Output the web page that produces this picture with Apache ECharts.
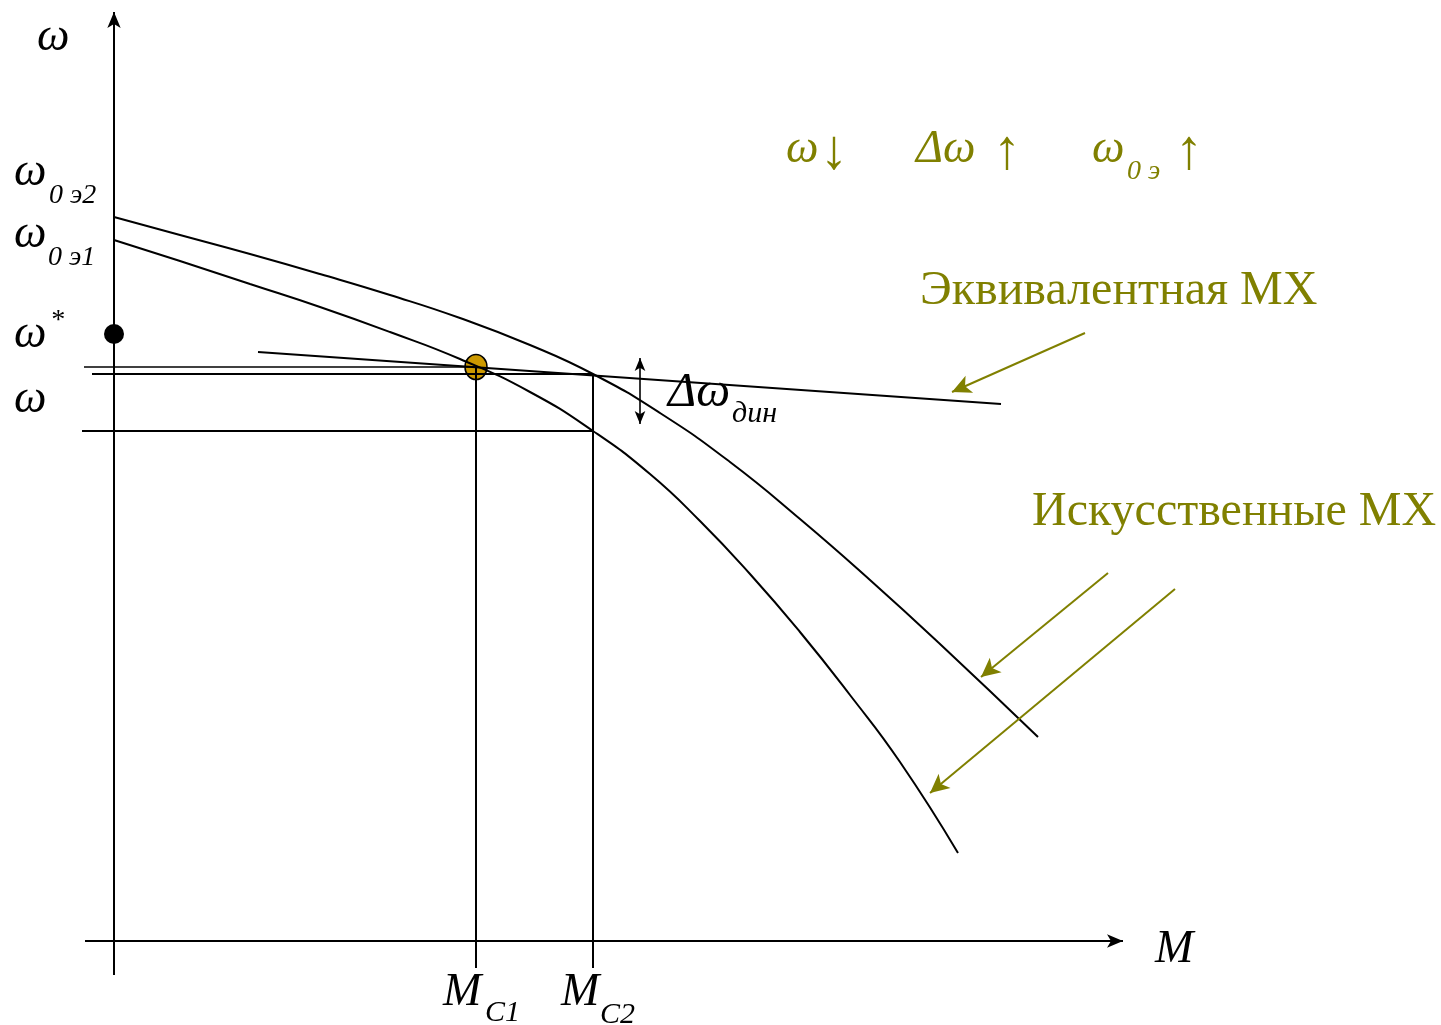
<!DOCTYPE html>
<html>
<head>
<meta charset="utf-8">
<script src="https://cdn.jsdelivr.net/npm/echarts/dist/echarts.min.js"></script>
<style>
  html, body { margin: 0; padding: 0; background: #ffffff; }
  #chart { width: 1441px; height: 1025px; }
</style>
</head>
<body>
<div id="chart"></div>
<script>
// Mechanical characteristics ω(M): two artificial curves, the equivalent one and the load points.

// Artificial characteristic starting at ω0э2 (upper curve), [M, ω]
const curveE2 = [
  [0, 72.4], [6.6, 70.6], [13.6, 68.7], [20.6, 66.7], [27.6, 64.6], [34.6, 62.3], [41.6, 59.6],
  [47.9, 56.7], [54.6, 52.8], [61.6, 47.9], [68.6, 42.2], [75.6, 36.1], [82.6, 29.7], [92.4, 20.4]
];
// Artificial characteristic starting at ω0э1 (lower curve), [M, ω]
const curveE1 = [
  [0, 70.1], [6.6, 68.0], [13.6, 65.7], [20.6, 63.4], [27.6, 60.9], [34.6, 58.2], [41.6, 54.9],
  [47.9, 51.0], [53.6, 46.7], [58.6, 42.0], [63.6, 36.7], [68.6, 30.9], [73.6, 24.6], [78.6, 17.9], [84.4, 8.8]
];
// Equivalent characteristic (straight line), [M, ω]
const equivLine = [[14.4, 58.9], [88.7, 53.7]];

// Load torques and operating speeds
const loadTorques = [36.2, 47.9];          // M_C1, M_C2
const opSpeeds = [57.4, 56.7, 51.0];        // ω at M_C1, ω at M_C2 (equivalent line), ω on ω0э1 curve at M_C2
const guideStartM = [-3.0, -2.2, -3.2];     // left ends of the horizontal guides
const guideEndM = [36.2, 47.9, 47.9];       // right ends of the horizontal guides
const guideBottom = -2.7;                   // lower end of the vertical guides
const operatingPoint = [36.2, 57.4];
const omegaStar = [0, 60.7];

// Axis extents
const mAxisRange = [-2.9, 100.9];
const wAxisRange = [-3.4, 92.9];

// Δω_дин double arrow
const dynArrow = [[52.6, 58.3], [52.6, 51.7]];

// Pointer arrows from the captions
const pointerArrows = [
  [[97.1, 60.8], [83.8, 54.9]],
  [[99.4, 36.8], [86.7, 26.4]],
  [[106.1, 35.2], [81.6, 14.8]]
];

const OLIVE = '#808000';
const SERIF = '"Liberation Serif", "Times New Roman", serif';

function txt(str, x, base, size, fill, italic) {
  const font = (italic ? 'italic ' : '') + size + 'px ' + SERIF;
  return {
    type: 'text', x: x, y: base - 0.23 * size, silent: true,
    style: {
      text: str, font: font, fill: fill,
      textAlign: 'left', textVerticalAlign: 'middle',
      align: 'left', verticalAlign: 'middle'
    }
  };
}

const labels = [
  txt('ω', 37, 48, 46, '#000', true),
  txt('ω', 14, 183, 46, '#000', true), txt('0 э2', 49, 202, 28, '#000', true),
  txt('ω', 14, 245, 46, '#000', true), txt('0 э1', 48, 264, 28, '#000', true),
  txt('ω', 14, 345, 46, '#000', true), txt('*', 50, 327, 28, '#000', true),
  txt('ω', 14, 410, 46, '#000', true),
  txt('Δω', 668, 404, 48, '#000', true), txt('дин', 732, 421, 30, '#000', true),
  txt('M', 1155, 960, 46, '#000', true),
  txt('M', 443, 1003, 46, '#000', true), txt('C1', 485, 1020, 30, '#000', true),
  txt('M', 561, 1003, 46, '#000', true), txt('C2', 600, 1022, 30, '#000', true),
  txt('ω', 786, 160, 46, OLIVE, true), txt('↓', 820, 166, 56, OLIVE, false),
  txt('Δω', 916, 160, 46, OLIVE, true), txt('↑', 993, 166, 56, OLIVE, false),
  txt('ω', 1092, 160, 46, OLIVE, true), txt('0 э', 1127, 178, 28, OLIVE, true), txt('↑', 1175, 166, 56, OLIVE, false),
  txt('Эквивалентная МХ', 920, 302, 48, OLIVE, false),
  txt('Искусственные МХ', 1032, 523, 48, OLIVE, false)
];

const blackLine = { color: '#000', width: 2 };

const series = [];

// Horizontal and vertical guide lines
opSpeeds.forEach((w, i) => {
  series.push({
    type: 'line', data: [[guideStartM[i], w], [guideEndM[i], w]],
    symbol: 'none', silent: true, animation: false,
    lineStyle: { color: '#000', width: i === 0 ? 1.4 : 2 }
  });
});
loadTorques.forEach((m, i) => {
  series.push({
    type: 'line', data: [[m, opSpeeds[i]], [m, guideBottom]],
    symbol: 'none', silent: true, animation: false,
    lineStyle: { color: '#000', width: 2 }
  });
});

// Characteristics
series.push({
  name: 'ω0э2', type: 'line', data: curveE2, smooth: 0.5, symbol: 'none',
  silent: true, animation: false, lineStyle: blackLine
});
series.push({
  name: 'ω0э1', type: 'line', data: curveE1, smooth: 0.5, symbol: 'none',
  silent: true, animation: false, lineStyle: blackLine
});

// Equivalent line, axes and arrows
const arrowLines = [
  // M axis
  [{ coord: [mAxisRange[0], 0], symbol: 'none' },
   { coord: [mAxisRange[1], 0], symbol: 'arrow', symbolSize: [10, 16], lineStyle: { color: '#000', width: 2 } }],
  // ω axis
  [{ coord: [0, wAxisRange[0]], symbol: 'none' },
   { coord: [0, wAxisRange[1]], symbol: 'arrow', symbolSize: [10, 16], lineStyle: { color: '#000', width: 2 } }],
  // Δω_дин double arrow
  [{ coord: dynArrow[0], symbol: 'arrow', symbolSize: [8, 13] },
   { coord: dynArrow[1], symbol: 'arrow', symbolSize: [8, 13], lineStyle: { color: '#000', width: 1.6 } }]
].concat(pointerArrows.map(a => [
  { coord: a[0], symbol: 'none' },
  { coord: a[1], symbol: 'arrow', symbolSize: [14, 19], lineStyle: { color: OLIVE, width: 2 } }
]));

series.push({
  name: 'Эквивалентная МХ', type: 'line', data: equivLine, symbol: 'none',
  silent: true, animation: false, lineStyle: blackLine,
  markLine: {
    silent: true, animation: false,
    label: { show: false },
    lineStyle: { type: 'solid', color: '#000', width: 2 },
    emphasis: { disabled: true },
    data: arrowLines.map(pair => {
      const style = pair[1].lineStyle;
      return [
        Object.assign({}, pair[0], { lineStyle: style, itemStyle: { color: style.color } }),
        Object.assign({}, pair[1], { itemStyle: { color: style.color } })
      ];
    })
  }
});

// Points
series.push({
  type: 'scatter', data: [omegaStar], symbol: 'circle', symbolSize: 20,
  silent: true, animation: false, itemStyle: { color: '#000', opacity: 1 }
});
series.push({
  type: 'scatter', data: [operatingPoint], symbol: 'circle', symbolSize: [22, 25],
  silent: true, animation: false,
  itemStyle: { color: '#CC9900', borderColor: '#000', borderWidth: 1.6, opacity: 1 }
});

const chart = echarts.init(document.getElementById('chart'), null, { renderer: 'canvas' });
chart.setOption({
  backgroundColor: '#ffffff',
  animation: false,
  grid: { left: 0, right: 0, top: 0, bottom: 0 },
  xAxis: { type: 'value', min: -11.4, max: 132.7, show: false },
  yAxis: { type: 'value', min: -8.4, max: 94.1, show: false },
  series: series,
  graphic: labels
});
</script>
</body>
</html>
